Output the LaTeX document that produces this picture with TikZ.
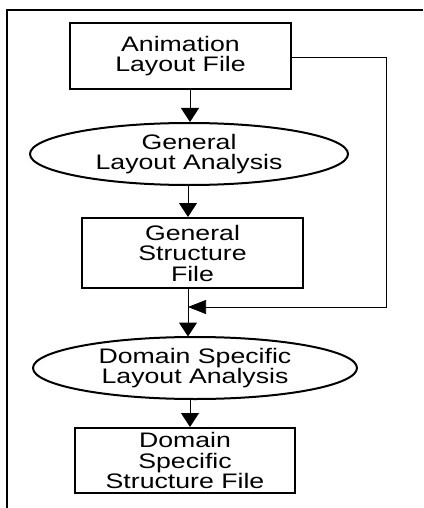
\documentclass[tikz,border=0pt]{standalone}
\usepackage{fontspec}
\usepackage{graphicx}
\setmainfont{Liberation Sans}
\newcommand\wl[1]{\scalebox{1.27}[1]{#1}}
\usetikzlibrary{arrows.meta,shapes.geometric}
\begin{document}
\begin{tikzpicture}[x=1pt,y=-1pt,
  every node/.style={font=\fontsize{21}{20.5}\selectfont, align=center, inner sep=0pt},
  boxnode/.style={draw, line width=2pt, minimum width=#1, rectangle},
  ellnode/.style={draw, line width=2pt, ellipse},
  flow/.style={line width=1pt, -{Triangle[length=14pt,width=18pt]}},
  back/.style={line width=0.7pt}]
\useasboundingbox (0,0) rectangle (423,508);
\draw[line width=1.6pt] (423,10) -- (7,10) -- (7,508);
\node[boxnode=221pt, minimum height=66pt] (alf) at (180.5,56) {\wl{Animation}\\\wl{Layout File}};
\node[ellnode, minimum width=318pt, minimum height=62pt] (gla) at (189,154) {\wl{General}\\\wl{Layout Analysis}};
\node[boxnode=221pt, minimum height=70pt] (gsf) at (192.5,253) {\wl{General}\\\wl{Structure}\\\wl{File}};
\node[ellnode, minimum width=324pt, minimum height=62pt] (dsla) at (195,368) {\wl{Domain Specific}\\\wl{Layout Analysis}};
\node[boxnode=220pt, minimum height=65pt] (dssf) at (185,460.5) {\wl{Domain}\\\wl{Specific}\\\wl{Structure File}};
\coordinate (j) at (188,307);
\coordinate (r1) at (386,57);
\coordinate (r2) at (386,307);
\draw[flow] (alf.south -| 190,0) -- (gla.north -| 190,0);
\draw[flow] (gla.south -| 188,0) -- (gsf.north -| 188,0);
\draw[line width=1pt] (gsf.south -| 188,0) -- (j);
\draw[flow] (j) -- (188,336.5);
\draw[back] (alf.east |- r1) -- (r1) -- (r2) -- (205,307);
\draw[back, -{Triangle[length=18pt,width=14pt]}] (r2) -- (j);
\draw[flow] (dsla.south -| 190,0) -- (dssf.north -| 190,0);
\end{tikzpicture}
\end{document}
